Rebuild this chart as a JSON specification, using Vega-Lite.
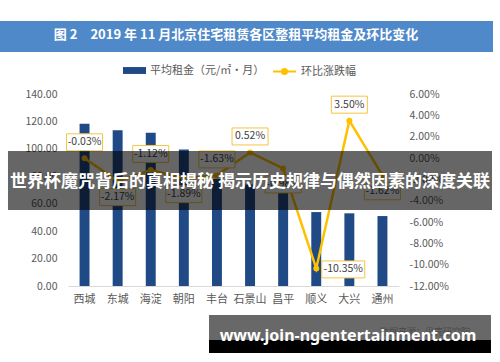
{
  "$schema": "https://vega.github.io/schema/vega-lite/v6.json",
  "autosize": "none",
  "width": 331,
  "height": 192,
  "padding": {"left": 68, "top": 94, "right": 101, "bottom": 76},
  "background": "white",
  "config": {
    "font": "Noto Sans CJK SC",
    "view": {"stroke": null},
    "locale": {"number": {"decimal": ".", "thousands": ",", "grouping": [3], "currency": ["", ""], "minus": "-"}},
    "axis": {"labelColor": "#595959", "labelFontSize": 10.5, "labelFont": "Noto Sans CJK SC", "ticks": false, "grid": false, "domain": false, "labelOverlap": false},
    "legend": {"labelColor": "#595959", "labelFontSize": 11, "labelFont": "Noto Sans CJK SC", "padding": 0, "labelOffset": 4}
  },
  "datasets": {
    "rent": [
      {"district": "西城", "rent": 118.3, "rate": -0.0003},
      {"district": "东城", "rent": 113.6, "rate": -0.0217},
      {"district": "海淀", "rent": 111.7, "rate": -0.0112},
      {"district": "朝阳", "rent": 99.5, "rate": -0.0189},
      {"district": "丰台", "rent": 78.0, "rate": -0.0163},
      {"district": "石景山", "rent": 74.0, "rate": 0.0052},
      {"district": "昌平", "rent": 68.0, "rate": -0.0098},
      {"district": "顺义", "rent": 53.9, "rate": -0.1035},
      {"district": "大兴", "rent": 53.0, "rate": 0.035},
      {"district": "通州", "rent": 51.0, "rate": -0.0162}
    ],
    "overlay": [
      {"title": "图 2　2019 年 11 月北京住宅租赁各区整租平均租金及环比变化", "banner": "世界杯魔咒背后的真相揭秘 揭示历史规律与偶然因素的深度关联", "site": "www.join-ngentertainment.com", "source": "数据来源：贝壳研究院"}
    ]
  },
  "layer": [
    {
      "data": {"name": "rent"},
      "layer": [
        {
          "mark": {"type": "bar"},
          "encoding": {
            "x": {"field": "district", "type": "nominal",
                  "scale": {"domain": ["西城", "东城", "海淀", "朝阳", "丰台", "石景山", "昌平", "顺义", "大兴", "通州"], "paddingInner": 0.7, "paddingOuter": 0.35},
                  "axis": {"title": null, "domain": true, "domainColor": "#d9d9d9", "labelAngle": 0, "labelPadding": 7, "labelFontSize": 11}},
            "y": {"field": "rent", "type": "quantitative", "scale": {"domain": [0, 140], "nice": false},
                  "axis": {"title": null, "values": [0, 20, 40, 60, 80, 100, 120, 140], "tickCount": 8, "format": ".2f", "labelPadding": 11, "labelOverlap": false}},
            "color": {"datum": "平均租金（元/㎡·月）", "scale": {"range": ["#1F4A86"]},
                      "legend": {"orient": "none", "legendX": 55, "legendY": -35, "title": null, "symbolType": "M-1,-0.3L1,-0.3L1,0.3L-1,0.3Z", "symbolSize": 529, "symbolStrokeWidth": 0}}
          }
        },
        {
          "layer": [
            {
              "mark": {"type": "line", "strokeWidth": 2.5},
              "encoding": {
                "x": {"field": "district", "type": "nominal"},
                "y": {"field": "rate", "type": "quantitative", "scale": {"domain": [-0.12, 0.06], "nice": false},
                      "axis": {"orient": "right", "title": null, "values": [-0.12, -0.1, -0.08, -0.06, -0.04, -0.02, 0, 0.02, 0.04, 0.06], "tickCount": 10, "format": ".2%", "labelPadding": 10, "labelOverlap": false}},
                "stroke": {"datum": "环比涨跌幅", "scale": {"range": ["#FFC000"]},
                           "legend": {"orient": "none", "legendX": 204, "legendY": -35, "title": null, "symbolType": "M-1,0L1,0M-0.22,0A0.22,0.22 0 1,0 0.22,0A0.22,0.22 0 1,0 -0.22,0Z", "symbolSize": 529, "symbolStrokeWidth": 2, "symbolFillColor": "#FFC000"}}
              }
            },
            {
              "mark": {"type": "point", "filled": true, "size": 36, "color": "#FFC000", "opacity": 1},
              "encoding": {
                "x": {"field": "district", "type": "nominal"},
                "y": {"field": "rate", "type": "quantitative"}
              }
            },
            {
              "transform": [{"filter": {"field": "district", "oneOf": ["西城", "海淀", "丰台", "石景山", "大兴"]}}],
              "mark": {"type": "point", "shape": "M-1,-0.472L1,-0.472L1,0.472L-1,0.472Z", "size": 1296, "fill": "white", "stroke": "#F4C542", "strokeWidth": 1, "opacity": 1, "yOffset": -16},
              "encoding": {
                "x": {"field": "district", "type": "nominal"},
                "y": {"field": "rate", "type": "quantitative"}
              }
            },
            {
              "transform": [{"filter": {"field": "district", "oneOf": ["西城", "海淀", "丰台", "石景山", "大兴"]}}],
              "mark": {"type": "text", "yOffset": -16, "fontSize": 10.5, "color": "#404040"},
              "encoding": {
                "x": {"field": "district", "type": "nominal"},
                "y": {"field": "rate", "type": "quantitative"},
                "text": {"field": "rate", "type": "quantitative", "format": ".2%"}
              }
            },
            {
              "transform": [{"filter": {"field": "district", "oneOf": ["东城", "朝阳", "昌平", "通州"]}}],
              "mark": {"type": "point", "shape": "M-1,-0.472L1,-0.472L1,0.472L-1,0.472Z", "size": 1296, "fill": "white", "stroke": "#F4C542", "strokeWidth": 1, "opacity": 1, "yOffset": 16},
              "encoding": {
                "x": {"field": "district", "type": "nominal"},
                "y": {"field": "rate", "type": "quantitative"}
              }
            },
            {
              "transform": [{"filter": {"field": "district", "oneOf": ["东城", "朝阳", "昌平", "通州"]}}],
              "mark": {"type": "text", "yOffset": 16, "fontSize": 10.5, "color": "#404040"},
              "encoding": {
                "x": {"field": "district", "type": "nominal"},
                "y": {"field": "rate", "type": "quantitative"},
                "text": {"field": "rate", "type": "quantitative", "format": ".2%"}
              }
            },
            {
              "transform": [{"filter": {"field": "district", "equal": "顺义"}}],
              "mark": {"type": "point", "shape": "M-1,-0.395L1,-0.395L1,0.395L-1,0.395Z", "size": 1849, "fill": "white", "stroke": "#F4C542", "strokeWidth": 1, "opacity": 1, "xOffset": 27, "yOffset": 1},
              "encoding": {
                "x": {"field": "district", "type": "nominal"},
                "y": {"field": "rate", "type": "quantitative"}
              }
            },
            {
              "transform": [{"filter": {"field": "district", "equal": "顺义"}}],
              "mark": {"type": "text", "xOffset": 27, "yOffset": 1, "fontSize": 10.5, "color": "#404040"},
              "encoding": {
                "x": {"field": "district", "type": "nominal"},
                "y": {"field": "rate", "type": "quantitative"},
                "text": {"field": "rate", "type": "quantitative", "format": ".2%"}
              }
            }
          ]
        }
      ],
      "resolve": {"scale": {"y": "independent"}}
    },
    {
      "data": {"name": "overlay"},
      "layer": [
        {
          "mark": {"type": "rect", "color": "#5089C9"},
          "encoding": {
            "x": {"datum": -0.2054, "type": "quantitative", "scale": {"domain": [0, 1], "nice": false, "zero": false}, "axis": null},
            "x2": {"datum": 1.284},
            "y": {"datum": 1.3802, "type": "quantitative", "scale": {"domain": [0, 1], "nice": false, "zero": false}, "axis": null},
            "y2": {"datum": 1.2188}
          }
        },
        {
          "mark": {"type": "text", "color": "white", "fontSize": 13, "fontWeight": "bold", "align": "center", "baseline": "middle"},
          "encoding": {
            "x": {"datum": 0.5076, "type": "quantitative"},
            "y": {"datum": 1.3073, "type": "quantitative"},
            "text": {"field": "title"}
          }
        },
        {
          "mark": {"type": "rect", "color": "black", "opacity": 0.6},
          "encoding": {
            "x": {"datum": -0.1813, "type": "quantitative"},
            "x2": {"datum": 1.281},
            "y": {"datum": 0.7031, "type": "quantitative"},
            "y2": {"datum": 0.3958}
          }
        },
        {
          "mark": {"type": "text", "color": "white", "fontSize": 17, "fontWeight": "bold", "align": "center", "baseline": "middle"},
          "encoding": {
            "x": {"datum": 0.5498, "type": "quantitative"},
            "y": {"datum": 0.5417, "type": "quantitative"},
            "text": {"field": "banner"}
          }
        },
        {
          "mark": {"type": "rect", "color": "#686868", "opacity": 1},
          "encoding": {
            "x": {"datum": 0.426, "type": "quantitative"},
            "x2": {"datum": 1.2779},
            "y": {"datum": -0.151, "type": "quantitative"},
            "y2": {"datum": -0.2813}
          }
        },
        {
          "mark": {"type": "rect", "color": "#000000", "opacity": 1},
          "encoding": {
            "x": {"datum": 0.426, "type": "quantitative"},
            "x2": {"datum": 1.2779},
            "y": {"datum": -0.2813, "type": "quantitative"},
            "y2": {"datum": -0.349}
          }
        },
        {
          "mark": {"type": "text", "color": "#4a4a4a", "fontSize": 9, "align": "center", "baseline": "middle"},
          "encoding": {
            "x": {"datum": 1.0785, "type": "quantitative"},
            "y": {"datum": -0.2396, "type": "quantitative"},
            "text": {"field": "source"}
          }
        },
        {
          "mark": {"type": "text", "color": "white", "fontSize": 16, "fontWeight": "bold", "font": "Noto Sans", "align": "center", "baseline": "middle"},
          "encoding": {
            "x": {"datum": 0.8459, "type": "quantitative"},
            "y": {"datum": -0.2604, "type": "quantitative"},
            "text": {"field": "site"}
          }
        }
      ]
    }
  ],
  "resolve": {"scale": {"x": "independent", "y": "independent"}}
}
